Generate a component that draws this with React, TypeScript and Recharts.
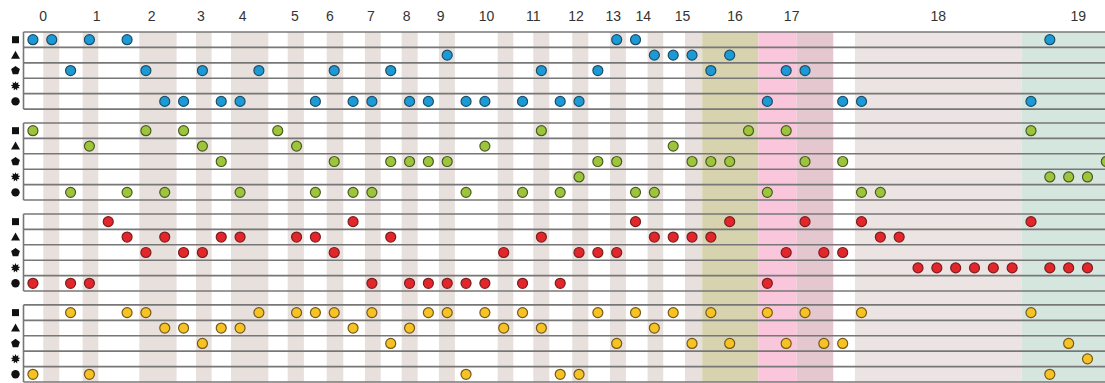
import { ScatterChart, Scatter, XAxis, YAxis, ReferenceArea, ReferenceLine } from "recharts"

// slot positions of the dots, one list per row (square, triangle, pentagon, star, circle)
const blueRows = [
  [0, 1, 3, 5, 31, 32, 54],
  [22, 33, 34, 35, 37],
  [2, 6, 9, 12, 16, 19, 27, 30, 36, 40, 41],
  [],
  [7, 8, 10, 11, 15, 17, 18, 20, 21, 23, 24, 26, 28, 29, 39, 43, 44, 53],
]
const greenRows = [
  [0, 6, 8, 13, 27, 38, 40, 53],
  [3, 9, 14, 24, 34],
  [10, 16, 19, 20, 21, 22, 30, 31, 35, 36, 37, 41, 43, 57],
  [29, 54, 55, 56],
  [2, 5, 7, 11, 15, 17, 18, 23, 26, 28, 32, 33, 39, 44, 45],
]
const redRows = [
  [4, 17, 32, 37, 41, 44, 53],
  [5, 7, 10, 11, 14, 15, 19, 27, 33, 34, 35, 36, 45, 46],
  [6, 8, 9, 16, 25, 29, 30, 31, 40, 42, 43],
  [47, 48, 49, 50, 51, 52, 54, 55, 56],
  [0, 2, 3, 18, 20, 21, 22, 23, 24, 26, 28, 39],
]
const yellowRows = [
  [2, 5, 6, 12, 14, 15, 16, 18, 21, 22, 24, 26, 30, 32, 34, 36, 39, 41, 44, 53],
  [7, 8, 10, 11, 17, 20, 25, 27, 33],
  [9, 19, 31, 35, 37, 40, 42, 43, 55],
  [56],
  [0, 3, 23, 28, 29, 54],
]

const groups = [
  { name: "blue", rows: blueRows, fill: "#1b9ad6", stroke: "#1f4d66" },
  { name: "green", rows: greenRows, fill: "#9cc53c", stroke: "#4b5a22" },
  { name: "red", rows: redRows, fill: "#e2272c", stroke: "#7a1e1e" },
  { name: "yellow", rows: yellowRows, fill: "#f7c324", stroke: "#76591a" },
]

const rowShapes = ["square", "triangle", "pentagon", "star", "circle"]

// top labels and where they sit on the slot axis
const topLabels = ["0", "1", "2", "3", "4", "5", "6", "7", "8", "9", "10", "11", "12", "13", "14", "15", "16", "17", "18", "19"]
const topLabelPos = [0.55, 3.38, 6.3, 8.92, 11.14, 13.91, 15.77, 17.95, 19.85, 21.65, 24.09, 26.57, 28.84, 30.82, 32.41, 34.5, 37.28, 40.29, 48.08, 55.51]

// thin stripes in the background
const stripes = [
  [0.55, 1.4], [2.64, 3.47], [5.65, 7.63], [8.66, 9.49], [10.52, 12.5], [13.53, 14.39],
  [15.6, 16.48], [17.63, 18.47], [19.58, 20.43], [21.56, 22.41], [24.68, 25.51],
  [26.57, 27.42], [28.64, 29.49], [30.64, 31.49], [32.64, 33.47], [34.63, 35.54],
]
const wideBands = [
  [35.54, 38.52], [38.52, 40.56], [40.56, 42.5], [43.65, 52.51], [52.51, 56.93],
]
const wideBandColors = ["#d6d3ae", "#f9c6dc", "#e5c7d0", "#ebe4e2", "#d5e6df"]

const X_MIN = -0.5
const X_MAX = 56.93
const GROUP_PITCH = 5.9
const Y_MAX = GROUP_PITCH * 3 + 5

const rowCenter = (g: number, r: number) => g * GROUP_PITCH + r + 0.5
const rowTicks = groups.flatMap((_, g) => rowShapes.map((_, r) => rowCenter(g, r)))

function Glyph({ x, y, index }: any) {
  const kind = rowShapes[index % 5]
  const c = "#111"
  if (kind === "square") return <rect x={x - 3.5} y={y - 3.5} width={7} height={7} fill={c} />
  if (kind === "triangle") return <polygon points={`${x},${y - 4.5} ${x + 4.5},${y + 3.5} ${x - 4.5},${y + 3.5}`} fill={c} />
  if (kind === "pentagon") {
    const pts = [0, 1, 2, 3, 4].map((i) => {
      const a = -Math.PI / 2 + (i * 2 * Math.PI) / 5
      return `${x + 4.6 * Math.cos(a)},${y + 4.6 * Math.sin(a)}`
    })
    return <polygon points={pts.join(" ")} fill={c} />
  }
  if (kind === "star") {
    const pts = Array.from({ length: 18 }, (_, i) => {
      const a = -Math.PI / 2 + (i * Math.PI) / 9
      const rr = i % 2 === 0 ? 4.8 : 2.8
      return `${x + rr * Math.cos(a)},${y + rr * Math.sin(a)}`
    })
    return <polygon points={pts.join(" ")} fill={c} />
  }
  return <circle cx={x} cy={y} r={4.2} fill={c} />
}

function TopTick({ x, payload }: any) {
  const i = topLabelPos.indexOf(payload.value)
  return (
    <text x={x} y={21} textAnchor="middle" fontSize={14} fill="#333" fontFamily="Liberation Sans, Arial, sans-serif">
      {topLabels[i]}
    </text>
  )
}

export default function App() {
  return (
    <div style={{ position: "absolute", left: 0, top: 0, background: "#fff" }}>
      <ScatterChart width={1105} height={383} margin={{ top: 0, right: 0, bottom: 1, left: 0 }}>
        <XAxis
          type="number"
          dataKey="x"
          orientation="top"
          domain={[X_MIN, X_MAX]}
          allowDataOverflow
          ticks={topLabelPos}
          interval={0}
          tick={<TopTick />}
          axisLine={false}
          tickLine={false}
          height={32}
        />
        <YAxis
          type="number"
          dataKey="y"
          domain={[0, Y_MAX]}
          reversed
          allowDataOverflow
          ticks={rowTicks}
          interval={0}
          tick={<Glyph />}
          axisLine={false}
          tickLine={false}
          width={23.5}
        />
        {stripes.map(([a, b], i) => (
          <ReferenceArea key={"s" + i} x1={a} x2={b} y1={0} y2={Y_MAX} fill="#e8e0dd" fillOpacity={1} stroke="none" />
        ))}
        {wideBands.map(([a, b], i) => (
          <ReferenceArea key={"w" + i} x1={a} x2={b} y1={0} y2={Y_MAX} fill={wideBandColors[i]} fillOpacity={1} stroke="none" />
        ))}
        {groups.map((_, g) =>
          [0, 1, 2, 3, 4, 5].map((i) => (
            <ReferenceLine key={`h${g}-${i}`} y={g * GROUP_PITCH + i} stroke="#777" strokeWidth={1.6} />
          ))
        )}
        {groups.map((_, g) => (
          <ReferenceLine
            key={"v" + g}
            segment={[
              { x: X_MIN, y: g * GROUP_PITCH },
              { x: X_MIN, y: g * GROUP_PITCH + 5 },
            ]}
            stroke="#777"
            strokeWidth={1.6}
          />
        ))}
        {groups.map((grp, g) => (
          <Scatter
            key={grp.name}
            data={grp.rows.flatMap((slots, r) => slots.map((s) => ({ x: s, y: rowCenter(g, r) })))}
            isAnimationActive={false}
            shape={(p: any) => <circle cx={p.cx} cy={p.cy} r={5} fill={grp.fill} stroke={grp.stroke} strokeWidth={1.2} />}
          />
        ))}
      </ScatterChart>
    </div>
  )
}
